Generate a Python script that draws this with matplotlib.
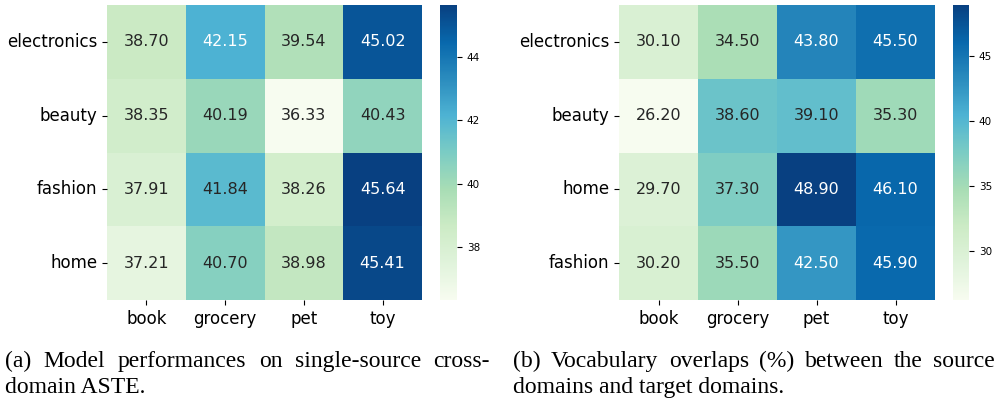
import matplotlib
matplotlib.use("Agg")
import matplotlib.pyplot as plt
import seaborn as sns
import pandas as pd

plt.rcParams["font.family"] = ["DejaVu Sans"]

# rows = source domain, columns = target domain
targets = ["book", "grocery", "pet", "toy"]
sources_a = ["electronics", "beauty", "fashion", "home"]
sources_b = ["electronics", "beauty", "home", "fashion"]

perf = [[38.70, 42.15, 39.54, 45.02],
        [38.35, 40.19, 36.33, 40.43],
        [37.91, 41.84, 38.26, 45.64],
        [37.21, 40.70, 38.98, 45.41]]

overlap = [[30.10, 34.50, 43.80, 45.50],
           [26.20, 38.60, 39.10, 35.30],
           [29.70, 37.30, 48.90, 46.10],
           [30.20, 35.50, 42.50, 45.90]]

caption_a = ["(a) Model performances on single-source cross-", "domain ASTE."]
caption_b = ["(b) Vocabulary overlaps (%) between the source", "domains and target domains."]

W, H = 1000, 401
fig = plt.figure(figsize=(W / 100, H / 100), dpi=100)


def box(l, t, r, b):
    # pixel box -> figure fraction
    return [l / W, (H - b) / H, (r - l) / W, (b - t) / H]


def draw(data, rows, hm_box, cb_box):
    ax = fig.add_axes(box(*hm_box))
    cax = fig.add_axes(box(*cb_box))
    df = pd.DataFrame(data, index=rows, columns=targets)
    sns.heatmap(df, annot=True, fmt=".2f", cmap="GnBu", ax=ax, cbar_ax=cax,
                annot_kws={"size": 11.5})
    ax.tick_params(labelsize=12)
    ax.set_yticklabels(rows, rotation=0)
    cax.tick_params(labelsize=7.5)


draw(perf, sources_a, (107, 5, 422, 300), (440, 5, 457, 300))
draw(overlap, sources_b, (619, 5, 935, 300), (953, 5, 969, 300))

renderer = fig.canvas.get_renderer()
cap_kw = dict(family="Liberation Serif", fontsize=17, va="baseline")


def justified(x0, x1, y, text):
    words = text.split()
    objs = [fig.text(0, 1 - y / H, w, **cap_kw) for w in words]
    widths = [o.get_window_extent(renderer).width for o in objs]
    gap = (x1 - x0 - sum(widths)) / (len(words) - 1)
    x = x0
    for o, w in zip(objs, widths):
        o.set_x(x / W)
        x += w + gap


justified(5, 490, 367, caption_a[0])
fig.text(5 / W, 1 - 393 / H, caption_a[1], **cap_kw)
justified(513, 995, 367, caption_b[0])
fig.text(513 / W, 1 - 393 / H, caption_b[1], **cap_kw)

fig.savefig("out.png", dpi=100)
